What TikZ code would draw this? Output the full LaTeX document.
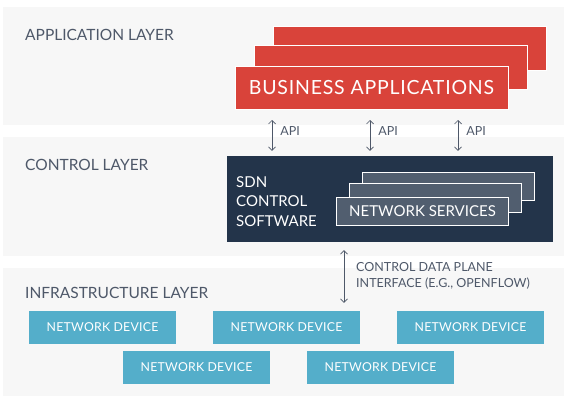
\documentclass[tikz,border=0pt]{standalone}
\usepackage{fontspec}
\setmainfont{Lato}
\usetikzlibrary{arrows.meta}

\definecolor{bandgray}{HTML}{F7F7F7}
\definecolor{labelgray}{HTML}{4E5869}
\definecolor{bizred}{HTML}{D9433A}
\definecolor{sdnnavy}{HTML}{23344A}
\definecolor{svcgray}{HTML}{515E6F}
\definecolor{devblue}{HTML}{54AECA}

\begin{document}
\begin{tikzpicture}[x=1pt, y=-1pt,
	band/.style={fill=bandgray, draw=none},
	layer/.style={anchor=base west, text=labelgray, inner sep=0pt, font=\fontsize{15.5}{18}\selectfont},
	biz/.style={fill=bizred, draw=white, line width=1pt, inner sep=0pt, minimum width=273pt, minimum height=43pt},
	svc/.style={fill=svcgray, draw=white, line width=0.8pt, inner sep=0pt, minimum width=172pt, minimum height=28.5pt},
	dev/.style={fill=devblue, draw=none, inner sep=0pt, minimum width=147pt, minimum height=33pt,
		text=white, font=\fontsize{12.3}{14}\selectfont\addfontfeatures{LetterSpace=2}},
	link/.style={draw=labelgray, line width=0.7pt, {Straight Barb[length=3.5pt,width=7pt]}-{Straight Barb[length=3.5pt,width=7pt]}},
	note/.style={text=labelgray, inner sep=0pt, font=\fontsize{12.5}{16.7}\selectfont, align=left}]
	\useasboundingbox (0,0) rectangle (564,396);

	% the three layers
	\path[band] (3,7) rectangle (564,125);
	\path[band] (3,137) rectangle (564,256);
	\path[band] (3,268) rectangle (564,396);
	\node[layer] (applayer) at (25,40.7) {APPLICATION LAYER};
	\node[layer] (ctllayer) at (25,170.7) {CONTROL LAYER};
	\node[layer] (infralayer) at (25,298.3) {INFRASTRUCTURE LAYER};

	% business applications, stacked
	\node[biz] (biz3) at (409.5,48.5) {};
	\node[biz] (biz2) at (391,67.5) {};
	\node[biz, text=white, font=\fontsize{19.5}{22}\selectfont\addfontfeatures{LetterSpace=4}] (biz1) at (371.5,88) {BUSINESS APPLICATIONS};

	% sdn controller
	\node[fill=sdnnavy, inner sep=0pt, minimum width=326pt, minimum height=86pt] (sdn) at (390,199) {};
	\node[anchor=north west, inner sep=0pt, text=white, align=left,
		font=\fontsize{15}{19.5}\selectfont] (sdntext) at (236,176) {SDN\\CONTROL\\SOFTWARE};
	\node[svc] (svc3) at (448,186.5) {};
	\node[svc] (svc2) at (435.5,198) {};
	\node[svc, text=white, font=\fontsize{15}{17}\selectfont] (svc1) at (422.5,211.5) {NETWORK SERVICES};

	% network devices
	\node[dev] (dev1) at (102.5,327.5) {NETWORK DEVICE};
	\node[dev] (dev2) at (286.5,327.5) {NETWORK DEVICE};
	\node[dev] (dev3) at (470.5,327.5) {NETWORK DEVICE};
	\node[dev] (dev4) at (196.5,367.5) {NETWORK DEVICE};
	\node[dev] (dev5) at (380.5,367.5) {NETWORK DEVICE};

	% northbound api
	\coordinate (a1) at (272,0);
	\coordinate (a2) at (370,0);
	\coordinate (a3) at (458,0);
	\foreach \a in {a1,a2,a3}{
		\draw[link, shorten <=10pt, shorten >=5pt] (biz1.south -| \a) -- (sdn.north -| \a)
			node[note, anchor=west, pos=0.5, xshift=8pt, yshift=1.5pt] {API};
	}

	% southbound interface
	\coordinate (s1) at (344,0);
	\draw[link, shorten <=8pt, shorten >=8pt] (sdn.south -| s1) -- (dev2.north -| s1);
	\node[note, anchor=north west] (sbnote) at (356,262) {CONTROL DATA PLANE\\INTERFACE (E.G., OPENFLOW)};
\end{tikzpicture}
\end{document}
